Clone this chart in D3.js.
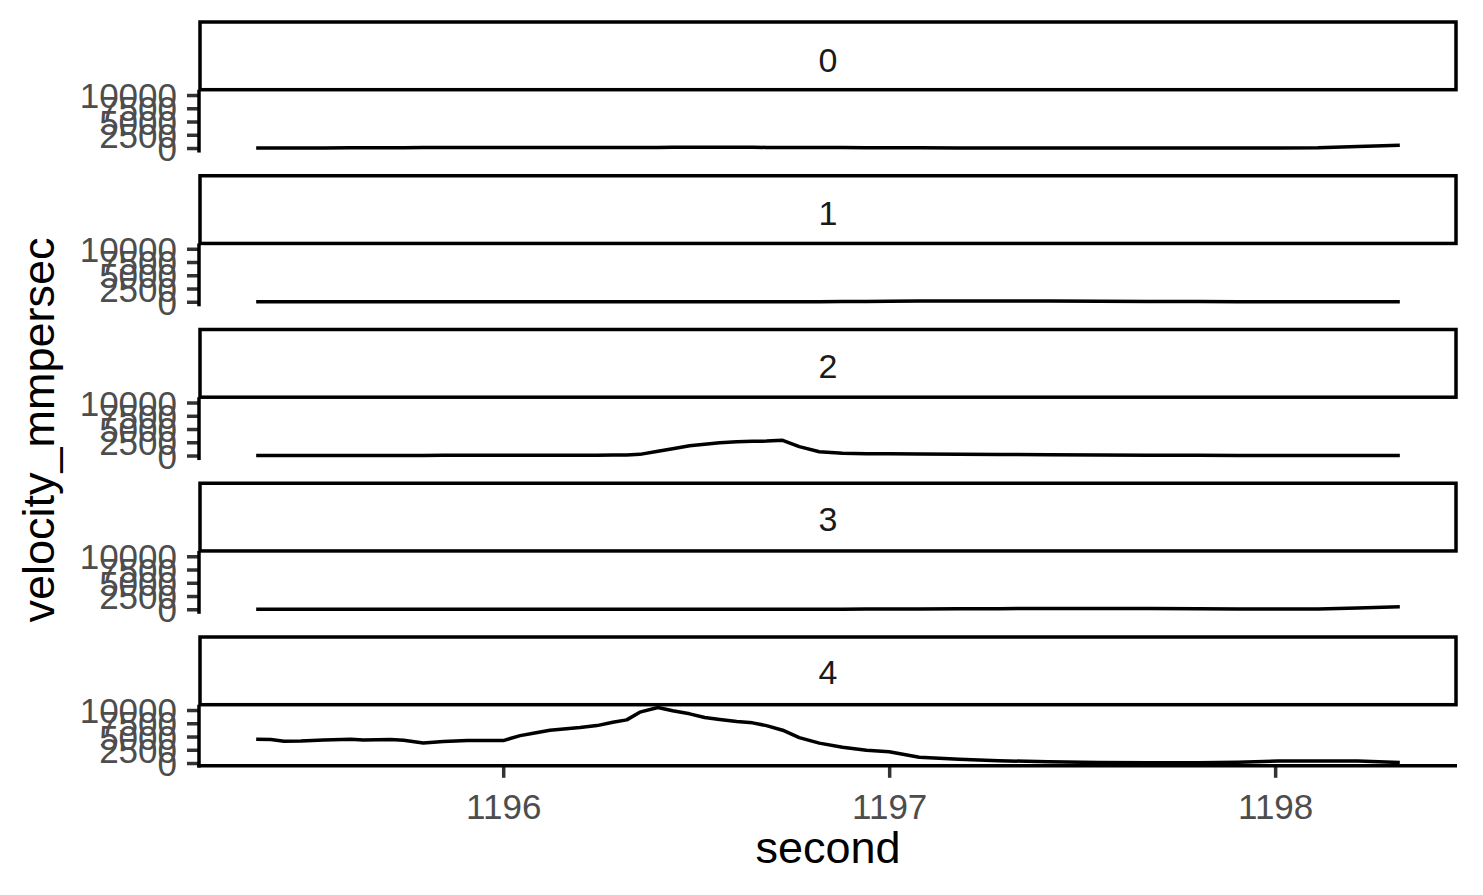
<!DOCTYPE html>
<html><head><meta charset="utf-8">
<script src="https://cdn.jsdelivr.net/npm/d3@7"></script>
<style>body{margin:0;background:#fff;} svg{display:block;font-family:"Liberation Sans",Arial,Helvetica,sans-serif;}</style>
</head><body><svg id="chart" width="1483" height="895"></svg>
<script>
// ---- data ----
const facets = ["0", "1", "2", "3", "4"];
const seconds = [1195.360, 1195.398, 1195.432, 1195.476, 1195.535, 1195.605, 1195.638, 1195.708, 1195.742, 1195.793,
  1195.845, 1195.907, 1196.000, 1196.044, 1196.078, 1196.121, 1196.199, 1196.243, 1196.284, 1196.320,
  1196.354, 1196.401, 1196.439, 1196.483, 1196.522, 1196.561, 1196.605, 1196.646, 1196.682, 1196.724,
  1196.767, 1196.819, 1196.879, 1196.941, 1197.000, 1197.078, 1197.181, 1197.284, 1197.413, 1197.543,
  1197.672, 1197.801, 1197.904, 1198.008, 1198.111, 1198.214, 1198.323];
const vel0 = [10, 10, 10, 10, 20, 30, 40, 50, 60, 80,
  100, 120, 120, 120, 120, 120, 110, 100, 100, 100,
  110, 120, 130, 130, 130, 130, 130, 130, 120, 120,
  120, 110, 90, 70, 50, 30, 20, 20, 20, 20,
  20, 20, 20, 20, 40, 280, 520];
const vel1 = [10, 10, 10, 10, 10, 10, 10, 10, 10, 10,
  10, 10, 10, 10, 10, 10, 10, 10, 10, 10,
  10, 10, 10, 10, 10, 10, 10, 10, 10, 10,
  10, 20, 30, 60, 100, 140, 160, 160, 140, 100,
  60, 30, 20, 10, 10, 10, 10];
const vel2 = [20, 20, 20, 20, 20, 20, 20, 20, 20, 20,
  30, 30, 30, 40, 40, 50, 60, 70, 80, 110,
  220, 820, 1270, 1860, 2140, 2420, 2620, 2670, 2720, 2870,
  1670, 720, 420, 350, 330, 300, 250, 200, 150, 90,
  60, 40, 20, 20, 20, 20, 20];
const vel3 = [0, 0, 0, 0, 0, 0, 0, 0, 0, 0,
  0, 0, 0, 0, 0, 0, 0, 0, 0, 0,
  0, 0, 0, 0, 0, 0, 0, 0, 0, 0,
  0, 10, 20, 30, 40, 60, 90, 120, 140, 140,
  130, 90, 60, 50, 60, 230, 480];
const vel4 = [4490, 4420, 4110, 4170, 4360, 4490, 4360, 4420, 4300, 3790,
  4040, 4230, 4230, 5170, 5620, 6190, 6690, 7060, 7700, 8140,
  9600, 10480, 9850, 9280, 8580, 8200, 7820, 7580, 7060, 6190,
  4790, 3750, 2970, 2400, 2140, 1100, 700, 440, 220, 80,
  30, 30, 150, 380, 400, 380, 120];
const seriesValues = [vel0, vel1, vel2, vel3, vel4];
const yTicks = [0, 2500, 5000, 7500, 10000];
const xTicks = [1196, 1197, 1198];
const xTitle = "second";
const yTitle = "velocity_mmpersec";

// ---- layout ----
const W = 1483, H = 895;
const plotL = 199, plotR = 1457;
const firstRowTop = 22, rowPeriod = 153.75, stripH = 67.7, panelH = 61.1;
const fsTick = 35, fsTitle = 45, fsStrip = 34;
const lw = 3.5;

const svg = d3.select("#chart");
svg.append("rect").attr("width", W).attr("height", H).attr("fill", "#fff");

function expand(ext, m) { const d = (ext[1] - ext[0]) * m; return [ext[0] - d, ext[1] + d]; }
const x = d3.scaleLinear().domain(expand(d3.extent(seconds), 0.05)).range([plotL, plotR]);
const allVals = seriesValues.flat();
const yDomain = expand(d3.extent(allVals), 0.05);

const line = d3.line();

facets.forEach((f, i) => {
  const rowTop = firstRowTop + i * rowPeriod;
  const pTop = rowTop + stripH;
  const pBot = pTop + panelH;
  const y = d3.scaleLinear().domain(yDomain).range([pBot, pTop]);
  const g = svg.append("g");

  // data line
  const pts = seconds.map((s, k) => [x(s), y(seriesValues[i][k])]);
  g.append("path").attr("d", line(pts)).attr("fill", "none")
    .attr("stroke", "#000").attr("stroke-width", lw).attr("stroke-linejoin", "round");

  // strip
  g.append("rect").attr("x", plotL + 1).attr("y", rowTop).attr("width", plotR - plotL - 2).attr("height", stripH)
    .attr("fill", "#fff").attr("stroke", "#000").attr("stroke-width", lw);
  g.append("text").attr("x", (plotL + plotR) / 2).attr("y", rowTop + 49.5 - i * 0.7)
    .attr("text-anchor", "middle").attr("font-size", fsStrip).attr("fill", "#1A1A1A").text(f);

  // y axis
  const ya = g.append("g").attr("transform", `translate(${plotL},0)`)
    .call(d3.axisLeft(y).tickValues(yTicks).tickSize(12).tickPadding(10).tickFormat(d3.format("d")));
  ya.select(".domain").remove();
  ya.selectAll(".tick line").attr("stroke", "#333").attr("stroke-width", lw);
  ya.selectAll(".tick text").attr("fill", "#4D4D4D").attr("font-size", fsTick)
    .attr("font-family", "Liberation Sans, Arial, sans-serif").attr("dy", "0.36em");
  g.append("line").attr("x1", plotL).attr("x2", plotL).attr("y1", pTop).attr("y2", pBot + lw / 2)
    .attr("stroke", "#000").attr("stroke-width", lw);

  if (i === facets.length - 1) {
    const xa = g.append("g").attr("transform", `translate(0,${pBot})`)
      .call(d3.axisBottom(x).tickValues(xTicks).tickSize(12).tickPadding(12).tickFormat(d3.format("d")));
    xa.select(".domain").remove();
    xa.selectAll(".tick line").attr("stroke", "#333").attr("stroke-width", lw);
    xa.selectAll(".tick text").attr("fill", "#4D4D4D").attr("font-size", fsTick)
      .attr("font-family", "Liberation Sans, Arial, sans-serif").attr("dy", null).attr("y", 819 - pBot);
    g.append("line").attr("x1", plotL - lw / 2).attr("x2", plotR).attr("y1", pBot).attr("y2", pBot)
      .attr("stroke", "#000").attr("stroke-width", lw);
  }
});

// titles
svg.append("text").attr("x", (plotL + plotR) / 2).attr("y", 863).attr("text-anchor", "middle")
  .attr("font-size", fsTitle).attr("fill", "#000").text(xTitle);
svg.append("text").attr("transform", "translate(54,430) rotate(-90)").attr("text-anchor", "middle")
  .attr("font-size", fsTitle).attr("fill", "#000").text(yTitle);
</script>
</body></html>
